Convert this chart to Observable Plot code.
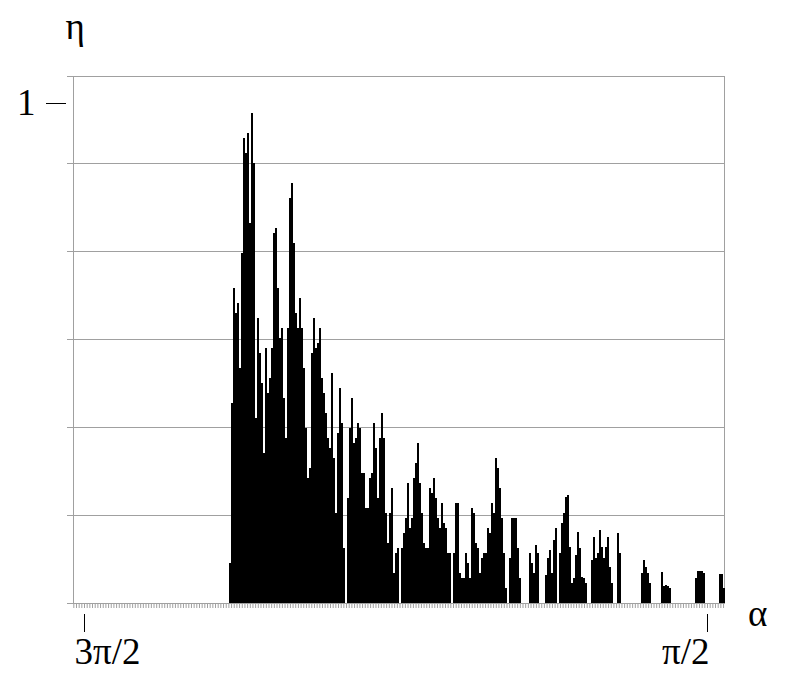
<!DOCTYPE html>
<html>
<head>
<meta charset="utf-8">
<script src="https://cdn.jsdelivr.net/npm/d3@7"></script>
<script src="https://cdn.jsdelivr.net/npm/@observablehq/plot@0.6"></script>
<style>
  html, body { margin: 0; padding: 0; background: white; }
</style>
</head>
<body>
<div id="chart"></div>
<script>
// η values, one per angular bin, α decreasing left to right
const eta = [
  0.08,0.40,0.63,0.58,0.60,0.47,0.70,0.93,0.90,0.94,
  0.76,0.98,0.88,0.37,0.57,0.50,0.44,0.30,0.51,0.42,
  0.45,0.51,0.74,0.75,0.63,0.53,0.55,0.41,0.33,0.55,
  0.81,0.84,0.72,0.58,0.55,0.61,0.55,0.47,0.35,0.25,
  0.27,0.50,0.57,0.51,0.52,0.55,0.45,0.42,0.38,0.33,
  0.31,0.46,0.29,0.18,0.34,0.43,0.36,0.11,0,0.21,
  0.35,0.41,0.32,0.33,0.36,0.35,0.26,0.26,0.19,0.19,
  0.25,0.26,0.36,0.31,0.21,0.33,0.38,0.33,0.18,0.12,
  0.18,0.23,0.06,0.10,0.11,0,0.11,0.14,0.17,0.24,
  0.15,0.17,0.25,0.28,0.32,0.24,0.18,0.12,0.11,0.11,
  0.23,0.22,0.25,0.21,0.17,0.15,0.20,0.16,0.15,0.10,
  0.10,0,0.10,0.20,0.20,0.06,0.05,0.05,0.10,0.08,
  0.05,0.19,0.18,0.12,0.11,0.06,0.09,0.10,0.10,0.15,
  0.14,0.20,0.18,0.29,0.27,0.23,0.17,0.10,0.03,0,
  0.09,0.17,0.17,0.17,0.11,0.05,0,0,0,0,
  0.10,0.08,0.06,0.116,0.10,0,0,0,0.056,0.09,
  0.106,0.06,0.126,0.15,0,0.10,0.16,0.18,0.213,0.216,
  0.113,0.04,0.05,0.096,0.143,0.11,0.053,0.05,0.04,0,
  0,0.086,0.133,0.09,0.10,0.146,0.113,0.09,0.113,0.133,
  0.073,0.04,0,0,0.14,0.10,0,0,0,0,
  0,0,0,0,0,0,0.06,0.086,0.073,0.06,
  0.04,0,0,0,0,0,0.063,0.035,0.036,0.035,
  0.03,0,0,0,0,0,0,0,0,0,
  0,0,0,0.05,0.064,0.064,0.064,0.06,0,0,
  0,0,0,0,0,0.058,0.058,0.03
];
const alphaStart = 3.9812;     // left edge of first bin (rad)
const alphaStep = 0.010085;    // bin width (rad), α decreases to the right
const alphaDomain = [4.7679, 1.4851];
const etaDomain = [0, 1.054];
const gridEta = [0, 0.176, 0.352, 0.528, 0.704, 0.88, 1.054];
const yTickValues = [1];
const majorTicks = [3 * Math.PI / 2, Math.PI / 2];
const majorLabels = ["3π/2", "π/2"];
const minorStep = Math.PI / 233;
const minorTicks = d3.range(-4, 240).map(k => 3 * Math.PI / 2 - k * minorStep);

const bars = eta.map((v, i) => ({a1: alphaStart - i * alphaStep, a2: alphaStart - (i + 1) * alphaStep, eta: v}));
const labels = majorTicks.map((a, i) => ({a, text: majorLabels[i]}));

const FONT = "Liberation Serif";
const gray = "#a0a0a0";

const chart = Plot.plot({
  width: 803,
  height: 696,
  marginLeft: 73,
  marginRight: 79,
  marginTop: 76,
  marginBottom: 93,
  x: {domain: alphaDomain, axis: null, label: null},
  y: {domain: etaDomain, axis: null, label: null},
  style: {fontFamily: FONT, background: "white", color: "black"},
  marks: [
    Plot.ruleY(gridEta, {stroke: gray, strokeWidth: 1}),
    Plot.frame({stroke: gray}),
    Plot.rectY(bars, {x1: "a1", x2: "a2", y1: 0, y2: "eta", fill: "black", inset: 0, shapeRendering: "crispEdges"}),
    Plot.axisY(gridEta, {tickSize: 6, tickFormat: () => "", stroke: gray, label: null}),
    Plot.axisY(yTickValues, {tickSize: 20, dx: -7, tickPadding: 11, fontSize: 37, fontFamily: FONT, stroke: "black", fill: "black", tickFormat: d => String(d), label: null}),
    Plot.axisX(minorTicks, {tickSize: 5, tickFormat: () => "", stroke: gray, label: null}),
    Plot.axisX(majorTicks, {tickSize: 18, dy: 11, tickFormat: () => "", stroke: "black", label: null}),
    Plot.text(labels.slice(0, 1), {x: "a", text: "text", frameAnchor: "bottom", dy: 60, dx: -10, textAnchor: "start", lineAnchor: "bottom", fontSize: 37, fontFamily: FONT, fill: "black"}),
    Plot.text(labels.slice(1), {x: "a", text: "text", frameAnchor: "bottom", dy: 60, dx: 2, textAnchor: "end", lineAnchor: "bottom", fontSize: 37, fontFamily: FONT, fill: "black"}),
    Plot.text(["α"], {text: d => d, frameAnchor: "bottom-right", dx: 43, dy: 22, lineAnchor: "bottom", fontSize: 37, fontFamily: FONT, fill: "black"}),
    Plot.text(["η"], {text: d => d, frameAnchor: "top-left", dx: -8, dy: -38, lineAnchor: "bottom", fontSize: 37, fontFamily: FONT, fill: "black"})
  ]
});
document.getElementById("chart").appendChild(chart);
</script>
</body>
</html>
